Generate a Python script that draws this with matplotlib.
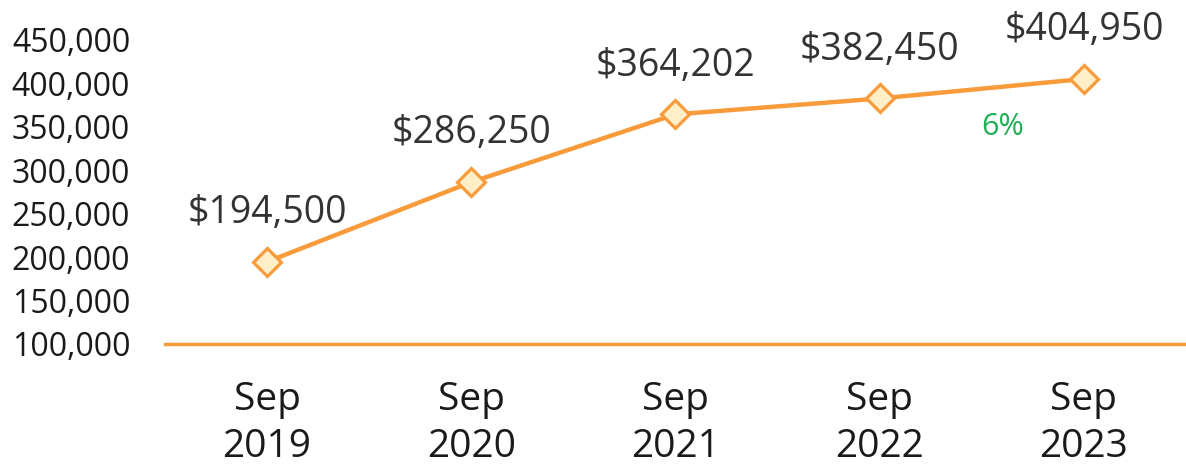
import matplotlib.pyplot as plt
from matplotlib.ticker import FuncFormatter

plt.rcParams['font.family'] = ['Open Sans', 'DejaVu Sans']

periods = ['Sep\n2019', 'Sep\n2020', 'Sep\n2021', 'Sep\n2022', 'Sep\n2023']
prices = [194500, 286250, 364202, 382450, 404950]

orange = '#F99B3B'

fig = plt.figure(figsize=(11.86, 4.68), dpi=100)
ax = fig.add_axes([0.139, 0.265, 0.861, 0.65])

x = list(range(len(periods)))
ax.plot(x, prices, color=orange, linewidth=3.2, marker='D', markersize=14,
        markerfacecolor='#FFEFC9', markeredgecolor=orange, markeredgewidth=2.3,
        zorder=3)

# value labels above each point
for xi, p in zip(x, prices):
    ax.annotate(f'${p:,}', (xi, p), xytext=(0, 35), textcoords='offset points',
                ha='center', va='center', fontsize=27, color='#333333')

# year-over-year change for the latest period
change = (prices[-1] - prices[-2]) / prices[-2] * 100
ax.text(3.6, 350000, f'{change:.0f}%', ha='center', va='center',
        fontsize=22, color='#1DB054')

ax.set_xlim(-0.5, len(periods) - 0.5)
ax.set_ylim(100000, 450000)
ax.set_yticks(range(100000, 450001, 50000))
ax.yaxis.set_major_formatter(FuncFormatter(lambda v, _: f'{int(v):,}'))
ax.set_xticks(x)
ax.set_xticklabels(periods, linespacing=1.3)

ax.tick_params(axis='y', length=0, pad=25, labelsize=23, labelcolor='#1a1a1a')
ax.tick_params(axis='x', length=0, pad=27, labelsize=28, labelcolor='#1a1a1a')

for side in ['top', 'right', 'left']:
    ax.spines[side].set_visible(False)
ax.spines['bottom'].set_color(orange)
ax.spines['bottom'].set_linewidth(2.5)

fig.savefig('out.png', dpi=100)
